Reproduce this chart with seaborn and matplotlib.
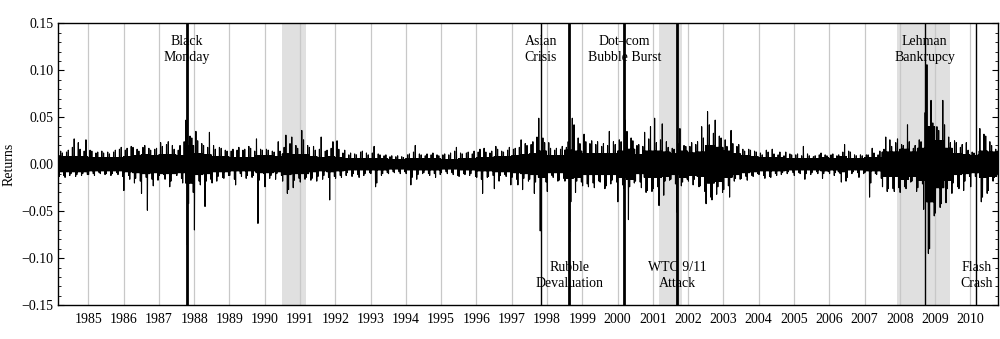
"""Daily returns with crisis markers and recession shading."""

import matplotlib
matplotlib.use("Agg")
import matplotlib.pyplot as plt
from matplotlib.ticker import FuncFormatter, MultipleLocator
import pandas as pd
import seaborn as sns

# ---- data (returns in percent) ----
first_month = "1984-02"

# monthly extreme up-moves
monthly_high = [
    1.6, 1.4, 1.2, 1.3, 1.5, 1.8, 2.7, 2.3, 1.6, 1.4, 2.6,              # 1984
    1.5, 1.4, 1.2, 1.3, 1.4, 1.2, 1.3, 1.1, 1.3, 1.5, 1.6, 1.8,         # 1985
    1.5, 1.7, 1.9, 1.8, 1.6, 1.4, 1.8, 2.0, 1.7, 1.5, 1.6, 1.7,         # 1986
    2.3, 1.9, 2.1, 2.4, 2.0, 1.6, 1.5, 2.0, 2.4, 4.7, 3.0, 2.8,         # 1987
    3.5, 2.5, 2.2, 2.0, 1.8, 3.4, 2.0, 1.6, 1.8, 1.7, 1.5, 1.4,         # 1988
    1.4, 1.6, 1.5, 1.8, 1.5, 1.6, 1.9, 1.7, 1.4, 2.7, 1.6, 1.5,         # 1989
    1.6, 1.5, 1.4, 1.3, 2.4, 1.4, 1.8, 3.1, 2.2, 2.9, 2.0, 1.7,         # 1990
    3.6, 2.6, 2.0, 1.8, 1.9, 1.5, 1.6, 2.9, 1.4, 1.5, 1.7, 2.4,         # 1991
    2.5, 1.6, 1.2, 1.5, 1.0, 1.2, 1.1, 1.0, 1.3, 1.4, 1.2, 1.0,         # 1992
    1.2, 1.9, 1.1, 1.0, 0.9, 1.0, 0.8, 0.9, 0.8, 0.9, 0.8, 0.7,         # 1993
    1.0, 1.1, 1.3, 2.0, 1.1, 1.0, 0.9, 1.1, 1.0, 1.2, 1.0, 0.9,         # 1994
    1.0, 1.1, 1.0, 1.2, 1.4, 1.8, 1.2, 1.1, 1.2, 1.3, 1.1, 1.4,         # 1995
    1.3, 1.6, 1.7, 1.3, 1.2, 1.4, 1.9, 1.6, 1.4, 1.3, 1.5, 1.8,         # 1996
    1.6, 1.7, 1.8, 2.6, 2.2, 2.0, 2.1, 2.4, 2.9, 4.9, 2.8, 2.3,         # 1997
    2.3, 1.7, 1.5, 1.7, 1.6, 1.9, 1.8, 2.4, 4.9, 4.2, 2.8, 2.2,         # 1998
    3.2, 2.4, 2.2, 2.5, 2.1, 2.4, 1.9, 2.2, 2.0, 3.5, 2.4, 2.1,         # 1999
    2.6, 2.4, 4.7, 3.5, 2.8, 2.5, 2.0, 2.1, 1.9, 3.4, 2.7, 4.0,         # 2000
    4.9, 2.3, 2.6, 4.3, 2.4, 1.8, 1.7, 1.6, 2.2, 3.8, 2.0, 1.9,         # 2001
    1.9, 2.3, 2.1, 2.4, 4.0, 2.8, 5.6, 4.2, 3.3, 4.7, 3.0, 2.8,         # 2002
    2.6, 1.9, 3.6, 2.2, 1.9, 2.1, 1.6, 1.4, 1.6, 1.5, 1.4, 1.3,         # 2003
    1.2, 1.0, 1.5, 1.3, 1.6, 1.1, 1.0, 1.3, 0.9, 1.3, 1.1, 1.0,         # 2004
    1.0, 1.1, 0.9, 1.9, 1.1, 0.9, 0.8, 0.9, 1.0, 1.2, 1.0, 0.9,         # 2005
    1.0, 1.1, 0.9, 1.0, 1.3, 2.1, 1.4, 1.3, 1.0, 0.9, 1.0, 0.9,         # 2006
    1.0, 1.0, 1.7, 1.2, 1.0, 1.4, 1.6, 2.9, 2.6, 1.9, 2.3, 2.7,         # 2007
    2.1, 2.0, 4.2, 2.4, 1.7, 2.0, 2.6, 2.4, 5.5, 10.6, 6.8, 4.4,        # 2008
    4.0, 3.6, 6.8, 4.2, 2.9, 2.3, 2.5, 2.3, 1.8, 2.1, 2.3, 1.5,         # 2009
    1.3, 1.2, 1.0, 3.8, 3.2, 3.0, 2.4, 2.0, 1.6, 1.4,                   # 2010
]

# monthly extreme down-moves
monthly_low = [
    -1.6, -1.3, -1.2, -1.4, -1.2, -1.0, -1.3, -1.1, -1.2, -1.0, -1.1,          # 1984
    -1.1, -1.0, -1.2, -0.9, -1.0, -1.1, -1.0, -1.2, -1.0, -0.9, -1.1, -1.3,    # 1985
    -2.8, -1.2, -1.6, -2.0, -1.5, -1.8, -3.1, -1.4, -4.9, -1.6, -2.3, -1.7,    # 1986
    -1.2, -1.1, -1.6, -2.4, -1.8, -1.0, -1.2, -1.5, -2.0, -8.6, -4.2, -3.0,    # 1987
    -7.0, -1.8, -2.2, -4.5, -1.8, -1.6, -2.0, -1.8, -1.3, -1.4, -1.5, -1.2,    # 1988
    -1.2, -1.6, -2.2, -1.0, -1.3, -1.5, -1.2, -1.4, -1.2, -6.3, -1.7, -1.0,    # 1989
    -2.4, -1.5, -1.2, -1.6, -1.0, -1.2, -1.8, -3.1, -2.7, -2.5, -1.7, -1.5,    # 1990
    -1.9, -1.6, -1.4, -1.7, -1.5, -1.8, -1.3, -1.6, -1.2, -1.4, -3.8, -1.3,    # 1991
    -1.5, -1.2, -1.4, -1.2, -0.9, -1.3, -1.0, -1.1, -1.4, -1.2, -1.0, -0.9,    # 1992
    -1.0, -2.4, -2.0, -1.2, -1.0, -0.9, -1.0, -0.8, -0.9, -0.8, -1.0, -0.8,    # 1993
    -1.0, -2.2, -1.4, -1.6, -1.1, -1.0, -0.9, -1.0, -1.2, -1.0, -1.4, -1.1,    # 1994
    -0.9, -0.8, -1.0, -0.9, -1.1, -1.2, -1.3, -1.0, -1.1, -1.2, -1.0, -1.3,    # 1995
    -1.4, -1.6, -3.1, -1.4, -1.3, -1.2, -2.6, -1.8, -1.2, -1.1, -1.3, -2.2,    # 1996
    -1.4, -1.6, -2.2, -2.7, -1.5, -1.8, -1.6, -3.1, -1.9, -7.1, -2.2, -1.9,    # 1997
    -2.9, -1.2, -1.4, -1.8, -1.7, -1.5, -1.8, -7.2, -4.0, -3.0, -1.8, -1.9,    # 1998
    -2.3, -2.1, -2.4, -2.0, -2.5, -1.8, -1.9, -2.6, -2.3, -2.1, -1.7, -1.9,    # 1999
    -4.0, -2.2, -2.6, -5.9, -2.4, -2.0, -1.8, -1.9, -2.5, -3.0, -2.8, -2.9,    # 2000
    -2.6, -2.4, -4.4, -3.3, -1.8, -1.7, -1.6, -2.1, -5.1, -2.3, -1.9, -1.6,    # 2001
    -1.8, -2.2, -1.6, -2.4, -2.3, -2.9, -4.2, -3.5, -3.8, -3.2, -2.4, -3.0,    # 2002
    -2.7, -2.3, -3.5, -1.8, -1.5, -1.6, -1.5, -1.3, -1.7, -1.2, -1.3, -1.0,    # 2003
    -1.1, -1.2, -1.5, -1.3, -1.4, -1.0, -1.2, -1.1, -0.9, -1.0, -0.8, -0.9,    # 2004
    -1.2, -0.9, -1.0, -1.6, -1.0, -1.1, -0.9, -0.8, -1.0, -1.5, -1.0, -0.8,    # 2005
    -1.0, -1.2, -0.9, -1.0, -1.9, -1.8, -1.4, -1.0, -0.8, -0.9, -1.4, -1.0,    # 2006
    -0.9, -3.5, -2.0, -1.0, -1.1, -1.5, -2.4, -2.9, -2.6, -2.6, -2.9, -2.5,    # 2007
    -3.0, -2.4, -2.6, -1.9, -1.8, -2.9, -2.5, -2.1, -4.8, -9.5, -9.0, -5.5,    # 2008
    -5.2, -4.6, -4.2, -4.1, -2.6, -3.1, -2.0, -2.4, -2.6, -2.8, -1.8, -1.3,    # 2009
    -2.4, -1.3, -1.0, -4.0, -3.5, -3.1, -2.8, -1.8, -1.4, -1.2,                # 2010
]

# typical daily swing (dense core of the band), per quarter from 1984Q1
quarterly_core = [
    0.8, 0.8, 0.8, 0.8,   # 1984
    0.7, 0.7, 0.7, 0.7,   # 1985
    0.8, 0.9, 1.0, 0.9,   # 1986
    1.0, 1.0, 0.9, 2.0,   # 1987
    1.1, 1.0, 0.8, 0.8,   # 1988
    0.7, 0.7, 0.7, 0.9,   # 1989
    0.9, 0.8, 1.1, 1.0,   # 1990
    1.0, 0.8, 0.7, 0.8,   # 1991
    0.7, 0.6, 0.6, 0.6,   # 1992
    0.6, 0.6, 0.5, 0.5,   # 1993
    0.6, 0.6, 0.6, 0.6,   # 1994
    0.5, 0.5, 0.6, 0.6,   # 1995
    0.7, 0.7, 0.8, 0.8,   # 1996
    0.9, 1.0, 1.1, 1.4,   # 1997
    0.9, 0.9, 1.5, 1.4,   # 1998
    1.1, 1.1, 1.1, 1.1,   # 1999
    1.4, 1.6, 1.0, 1.4,   # 2000
    1.4, 1.3, 1.1, 1.4,   # 2001
    1.2, 1.3, 2.0, 1.8,   # 2002
    1.4, 1.1, 0.9, 0.8,   # 2003
    0.7, 0.7, 0.7, 0.6,   # 2004
    0.6, 0.6, 0.6, 0.7,   # 2005
    0.6, 0.8, 0.6, 0.6,   # 2006
    0.7, 0.7, 1.3, 1.3,   # 2007
    1.6, 1.3, 1.7, 4.0,   # 2008
    2.5, 1.7, 1.1, 1.0,   # 2009
    0.9, 1.4, 1.3, 1.0,   # 2010
]

tick_years = list(range(1985, 2011))

recession_starts = ["1990-07-01", "2001-03-01", "2007-12-01"]
recession_ends = ["1991-03-01", "2001-11-01", "2009-06-01"]

event_names = ["Black\nMonday", "Asian\nCrisis", "Rubble\nDevaluation",
               "Dot\u2013com\nBubble Burst", "WTC 9/11\nAttack",
               "Lehman\nBankrupcy", "Flash\nCrash"]
event_dates = ["1987-10-19", "1997-10-27", "1998-08-17", "2000-03-10",
               "2001-09-11", "2008-09-15", "2010-03-04"]

# styling of the event markers
event_widths = [2.0, 1.0, 2.0, 2.0, 2.0, 1.0, 1.0]
event_label_top = [True, True, False, True, False, True, False]


def to_year(date_str: str) -> float:
    t = pd.Timestamp(date_str)
    days = 366 if t.is_leap_year else 365
    return t.year + (t.dayofyear - 1) / days


# ---- build the plotted series: dense core swings plus the month's extremes ----
assert len(monthly_high) == len(monthly_low)
months = pd.period_range(first_month, periods=len(monthly_high), freq="M")
rows = []
for i, (m, hi, lo) in enumerate(zip(months, monthly_high, monthly_low)):
    c = quarterly_core[(m.year - 1984) * 4 + (m.month - 1) // 3]
    if i % 2 == 0:
        seq = [c, -c, hi, -c, c, -c, c, lo, c, -c]
    else:
        seq = [c, lo, c, -c, c, -c, hi, -c, c, -c]
    x0 = m.year + (m.month - 1) / 12
    for k, v in enumerate(seq):
        rows.append((x0 + k / (12 * len(seq)), v / 100))
df = pd.DataFrame(rows, columns=["year", "returns"])

# ---- plot ----
sns.set_style("ticks", {
    "axes.edgecolor": "black",
    "xtick.color": "black",
    "ytick.color": "black",
    "axes.labelcolor": "black",
    "text.color": "black",
})
plt.rcParams["font.family"] = ["Liberation Serif", "DejaVu Serif"]
plt.rcParams["axes.linewidth"] = 1.0

fig, ax = plt.subplots(figsize=(10, 3.39), dpi=100)
fig.subplots_adjust(left=0.0583, right=0.9983, bottom=0.100, top=0.931)

for s, e in zip(recession_starts, recession_ends):
    ax.axvspan(to_year(s), to_year(e), color="#e0e0e0", lw=0, zorder=0.2)

sns.lineplot(data=df, x="year", y="returns", color="black", lw=0.8,
             sort=False, estimator=None, ax=ax, zorder=2)

for name, d, lw, top in zip(event_names, event_dates, event_widths, event_label_top):
    x = to_year(d)
    ax.axvline(x, color="black", lw=lw, zorder=3)
    ax.text(x, 0.1225 if top else -0.119, name, ha="center", va="center",
            fontsize=10, linespacing=1.3, zorder=4)

ax.set_xlim(1984.15, 2010.79)
ax.set_ylim(-0.15, 0.15)
ax.set_xticks(tick_years)
ax.set_xticklabels([str(y) for y in tick_years])
ax.grid(axis="x", color="#c8c8c8", lw=0.9)
ax.set_axisbelow(True)

ax.yaxis.set_major_locator(MultipleLocator(0.05))
ax.yaxis.set_minor_locator(MultipleLocator(0.01))
ax.yaxis.set_major_formatter(
    FuncFormatter(lambda v, _: f"{v:.2f}".replace("-", "\u2212") if abs(v) > 1e-9 else "0.00"))
ax.tick_params(axis="y", which="both", direction="in", left=True, right=True, labelsize=10)
ax.tick_params(axis="y", which="major", length=4, width=0.8)
ax.tick_params(axis="y", which="minor", length=2.5, width=0.6)
ax.tick_params(axis="x", length=0, pad=6, labelsize=10)

ax.set_xlabel("")
ax.set_ylabel("Returns", fontsize=10)

fig.savefig("out.png", dpi=100)
plt.close(fig)
